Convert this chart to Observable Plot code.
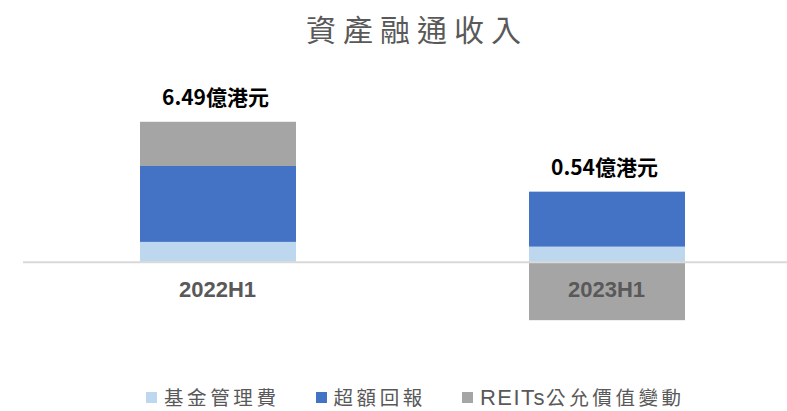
<!DOCTYPE html>
<html>
<head>
<meta charset="utf-8">
<script src="https://cdn.jsdelivr.net/npm/d3@7"></script>
<script src="https://cdn.jsdelivr.net/npm/@observablehq/plot@0.6"></script>
<style>
  html, body { margin: 0; padding: 0; background: #fff; }
  #wrap { position: relative; width: 787px; height: 411px; overflow: hidden; font-family: "Noto Sans CJK TC", "Noto Sans", sans-serif; }
  #title { position: absolute; top: 13px; left: 47px; width: 740px; text-align: center; font-size: 30px; line-height: 30px; letter-spacing: 7px; color: #595959; font-weight: 400; }
  #chart { position: absolute; top: 60px; left: 0; }
  #legend { position: absolute; top: 387px; left: 146px; height: 20px; line-height: 20px; display: flex; align-items: center; color: #595959; font-size: 19.5px; letter-spacing: 3.6px; }
  .item { display: flex; align-items: center; margin-right: 36px; height: 20px; }
  .item span { line-height: 20px; }
  .sw { width: 11px; height: 11px; margin-right: 7px; flex: none; }
  .latin { font-family: "Liberation Sans", Arial, sans-serif; font-size: 22px; letter-spacing: 1.5px; }
  g[aria-label="totals"] text { letter-spacing: 3px; }
</style>
</head>
<body>
<div id="wrap">
  <div id="title"></div>
  <div id="chart"></div>
  <div id="legend"></div>
</div>
<script>
const titleText = "資產融通收入";
const categories = ["2022H1", "2023H1"];
const series = ["基金管理費", "超額回報", "REITs公允價值變動"];
const colors = ["#BDD7EE", "#4472C4", "#A5A5A5"];
// values in 億港元
const feeValues = [0.92, 0.70];
const excessValues = [3.52, 2.55];
const reitsValues = [2.05, -2.71];
const totalLabels = ["6.49億港元", "0.54億港元"];

const seriesValues = [feeValues, excessValues, reitsValues];
const table = categories.flatMap((c, i) =>
  series.map((s, j) => ({ category: c, series: s, value: seriesValues[j][i] }))
);
const totals = categories.map((c, i) => ({
  category: c,
  top: seriesValues.reduce((a, v) => a + Math.max(0, v[i]), 0),
  label: totalLabels[i]
}));

document.getElementById("title").textContent = titleText;

const chart = Plot.plot({
  width: 787,
  height: 288,
  marginTop: 40,
  marginBottom: 0,
  marginLeft: 23,
  marginRight: 0,
  style: { background: "transparent", fontFamily: "'Noto Sans CJK TC', sans-serif" },
  x: { domain: categories, paddingInner: 0.599, paddingOuter: 0.2815, align: 0.534, axis: null },
  y: { domain: [-4, 7.5], axis: null },
  color: { domain: series, range: colors },
  marks: [
    Plot.barY(table, { x: "category", y: "value", fill: "series" }),
    Plot.ruleY([0], { stroke: "#D9D9D9", strokeWidth: 2 }),
    Plot.text(categories, {
      x: d => d, y: () => 0, text: d => d, dy: 28, dx: -1,
      fontSize: 22, fontWeight: "bold", fill: "#595959",
      fontFamily: "'Liberation Sans', Arial, sans-serif", ariaLabel: "cats"
    }),
    Plot.text(totals, {
      x: "category", y: "top", text: "label", dy: -24, dx: -3,
      fontSize: 21, fontWeight: "bold", fill: "#000",
      fontFamily: "'Noto Sans CJK TC', sans-serif", ariaLabel: "totals"
    })
  ]
});
document.getElementById("chart").appendChild(chart);

const legend = d3.select("#legend");
series.forEach((s, j) => {
  const item = legend.append("div").attr("class", "item");
  item.append("div").attr("class", "sw").style("background", colors[j]);
  const label = item.append("span");
  const m = s.match(/^([A-Za-z]+)(.*)$/);
  if (m) {
    label.append("span").attr("class", "latin").text(m[1]);
    label.append("span").text(m[2]);
  } else {
    label.text(s);
  }
});
</script>
</body>
</html>
